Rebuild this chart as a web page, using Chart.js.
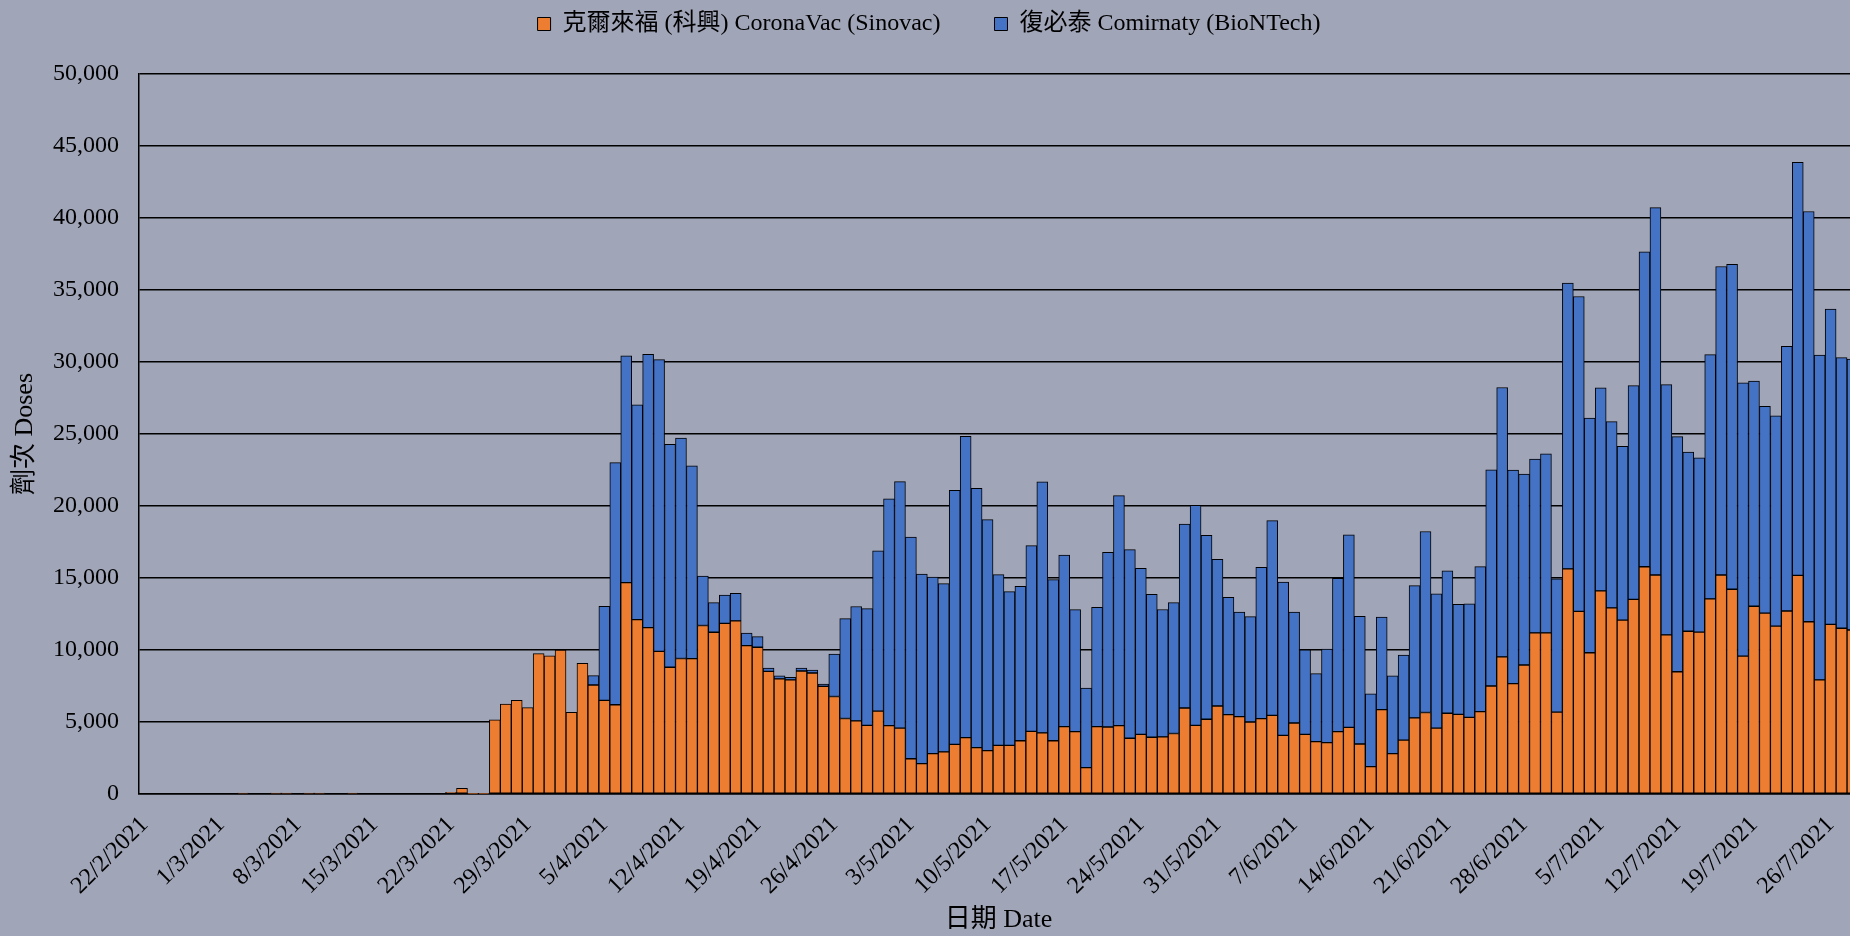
<!DOCTYPE html>
<html>
<head>
<meta charset="utf-8">
<title>劑次 Doses</title>
<script src="https://cdn.jsdelivr.net/npm/chart.js@4.4.0/dist/chart.umd.min.js"></script>
<style>
  html, body { margin: 0; padding: 0; background: #a0a5b8; overflow: hidden; }
  #wrap { width: 1858px; height: 936px; }
</style>
</head>
<body>
<div id="wrap"><canvas id="chart" width="1858" height="936"></canvas></div>
<script>
// daily categories: 22/2/2021 onwards, one per day
const startDate = Date.UTC(2021, 1, 22);
const dayCount = 157;
const dates = [];
for (let i = 0; i < dayCount; i++) {
    const d = new Date(startDate + i * 86400000);
    dates.push(d.getUTCDate() + '/' + (d.getUTCMonth() + 1) + '/' + d.getUTCFullYear());
}

const seriesNames = ['克爾來福 (科興) CoronaVac (Sinovac)', '復必泰 Comirnaty (BioNTech)'];

// doses per day
const sinovac = [
    0, 0, 0, 0, 0, 0, 0, 0, 0, 60,
    0, 0, 60, 60, 0, 60, 60, 0, 0, 60,
    0, 0, 0, 0, 0, 0, 0, 0, 120, 400,
    40, 40, 5150, 6250, 6500, 6000, 9750, 9600, 10000, 5670,
    9075, 7570, 6500, 6200, 14680, 12110, 11550, 9910, 8800, 9410,
    9400, 11700, 11230, 11850, 12020, 10300, 10190, 8520, 7990, 7920,
    8540, 8400, 7480, 6770, 5240, 5080, 4770, 5750, 4750, 4570,
    2450, 2110, 2800, 2920, 3450, 3910, 3220, 3010, 3380, 3380,
    3700, 4350, 4240, 3700, 4680, 4330, 1830, 4680, 4650, 4750,
    3870, 4140, 3940, 3970, 4200, 5970, 4770, 5190, 6110, 5510,
    5370, 5000, 5230, 5460, 4070, 4930, 4140, 3640, 3570, 4330,
    4630, 3470, 1900, 5860, 2800, 3740, 5290, 5660, 4570, 5610,
    5530, 5320, 5720, 7500, 9520, 7660, 8960, 11190, 11190, 5690,
    15630, 12680, 9810, 14110, 12920, 12070, 13520, 15780, 15210, 11050,
    8490, 11300, 11240, 13550, 15210, 14220, 9580, 13040, 12560, 11660,
    12710, 15180, 11960, 7920, 11780, 11510, 11390
];

const biontech = [
    0, 0, 0, 0, 0, 0, 0, 0, 0, 0,
    0, 0, 0, 0, 0, 0, 0, 0, 0, 0,
    0, 0, 0, 0, 0, 0, 0, 0, 0, 0,
    0, 0, 0, 0, 0, 0, 0, 0, 0, 0,
    0, 650, 6530, 16810, 15740, 14910, 18990, 20250, 15480, 15310,
    13390, 3440, 2060, 1970, 1920, 880, 740, 230, 210, 180,
    210, 210, 160, 2940, 6940, 7940, 8100, 11140, 15750, 17120,
    15400, 13170, 12270, 11690, 17640, 20930, 18010, 16040, 11850, 10670,
    10720, 12900, 17430, 11190, 11920, 8470, 5530, 8280, 12130, 15970,
    13100, 11530, 9930, 8840, 9090, 12780, 15280, 12770, 10190, 8150,
    7270, 7320, 10510, 13520, 10650, 7710, 5880, 4720, 6500, 10650,
    13360, 8870, 5050, 6430, 5400, 5910, 9180, 12570, 9330, 9890,
    7650, 7890, 10070, 15010, 18710, 14830, 13260, 12070, 12440, 9250,
    19850, 21870, 16290, 14090, 12940, 12070, 14840, 21870, 25510, 17380,
    16330, 12440, 12100, 16960, 21420, 22560, 18970, 15630, 14370, 14610,
    18370, 28680, 28490, 22560, 21890, 18790, 18820
];

const yMax = 50000;
const yStep = 5000;

const serif = "'Liberation Serif', 'Noto Sans CJK TC', serif";
Chart.defaults.color = '#000';
Chart.defaults.font.family = serif;
Chart.defaults.font.size = 24;

// legend sits at the top, with a gap down to the plot
const legendGap = {
    id: 'legendGap',
    beforeInit(chart) {
        const fit = chart.legend.fit;
        chart.legend.fit = function () {
            fit.bind(chart.legend)();
            this.height = 74;
        };
    }
};

new Chart(document.getElementById('chart'), {
    type: 'bar',
    data: {
        labels: dates,
        datasets: [{
            label: seriesNames[0],
            data: sinovac,
            backgroundColor: '#ed7d31',
            borderColor: '#000',
            borderWidth: 1,
            borderSkipped: false
        }, {
            label: seriesNames[1],
            data: biontech,
            backgroundColor: '#4472c4',
            borderColor: '#000',
            borderWidth: 1,
            borderSkipped: false
        }]
    },
    options: {
        responsive: false,
        animation: false,
        devicePixelRatio: 1,
        layout: { padding: 0 },
        datasets: {
            bar: { categoryPercentage: 1, barPercentage: 1 }
        },
        plugins: {
            tooltip: { enabled: false },
            legend: {
                position: 'top',
                labels: {
                    boxWidth: 13,
                    boxHeight: 13,
                    padding: 12,
                    font: { size: 24 },
                    generateLabels(chart) {
                        const items = Chart.defaults.plugins.legend.labels.generateLabels(chart);
                        items[0].text += '       ';
                        return items;
                    }
                }
            }
        },
        scales: {
            x: {
                stacked: true,
                grid: { display: false },
                border: { display: true, color: '#000', width: 1.5 },
                ticks: {
                    autoSkip: false,
                    minRotation: 45,
                    maxRotation: 45,
                    padding: 9,
                    callback: (val, i) => (i % 7 === 0 ? dates[i] : '')
                },
                title: {
                    display: true,
                    text: '日期 Date',
                    font: { size: 26 },
                    padding: { top: 0, bottom: 0 }
                },
                afterFit(scale) {
                    scale.height = 142;
                    scale.paddingLeft = 0;
                    scale.paddingRight = 0;
                }
            },
            y: {
                stacked: true,
                min: 0,
                max: yMax,
                grid: { color: '#000', lineWidth: 1.5, drawTicks: false },
                border: { display: true, color: '#000', width: 1.5 },
                ticks: {
                    stepSize: yStep,
                    padding: 20,
                    callback: v => v.toLocaleString('en-US')
                },
                title: {
                    display: true,
                    text: '劑次 Doses',
                    font: { size: 26 },
                    padding: { top: 10, bottom: 0 }
                },
                afterFit(scale) {
                    scale.width = 139;
                }
            }
        }
    },
    plugins: [legendGap]
});
</script>
</body>
</html>
